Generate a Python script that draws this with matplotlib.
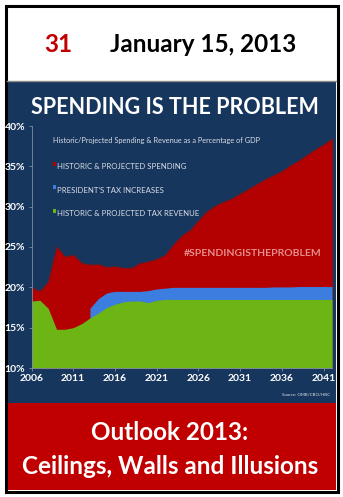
import matplotlib
matplotlib.use('Agg')
import matplotlib.pyplot as plt
from matplotlib.patches import Rectangle
import numpy as np

# data (percent of GDP)
years = list(range(2006, 2043))
spending = [20.0, 19.5, 20.7, 25.0, 23.8, 24.0, 23.0, 22.8, 22.85, 22.5, 22.6, 22.4,
            22.4, 23.0, 23.2, 23.5, 24.0, 25.3, 26.4, 27.1, 28.3, 29.4, 30.1, 30.6,
            31.0, 31.6, 32.2, 32.8, 33.4, 33.9, 34.4, 35.1, 35.7, 36.4, 37.1, 37.7, 38.4]
revenue = [18.3, 18.4, 17.4, 14.8, 14.8, 15.0, 15.5, 16.2, 16.8, 17.5, 17.9, 18.2,
           18.3, 18.3, 18.1, 18.4, 18.5, 18.5, 18.5, 18.5, 18.5, 18.5, 18.5, 18.5,
           18.5, 18.5, 18.5, 18.5, 18.5, 18.5, 18.5, 18.5, 18.5, 18.5, 18.5, 18.5, 18.5]
tax_years = list(range(2013, 2043))
with_tax = [17.4, 18.6, 19.3, 19.5, 19.5, 19.5, 19.5, 19.6, 19.8, 19.9, 20.0, 20.0,
            20.0, 20.0, 20.0, 20.0, 20.0, 20.0, 20.0, 20.0, 20.0, 20.0, 20.05, 20.05,
            20.05, 20.1, 20.1, 20.1, 20.1, 20.1]
x_ticks = [2006, 2011, 2016, 2021, 2026, 2031, 2036, 2041]
y_ticks = [10, 15, 20, 25, 30, 35, 40]
legend_labels = ['HISTORIC & PROJECTED SPENDING', "PRESIDENT'S TAX INCREASES",
                 'HISTORIC & PROJECTED TAX REVENUE']

NAVY = '#17365d'
RED = '#b30000'
BLUE = '#3c7de0'
GREEN = '#6cb515'
TXT = '#d9dee6'

W, H = 343, 497
fig = plt.figure(figsize=(W / 100, H / 100), dpi=100)
fig.patch.set_facecolor('white')

# page layer in pixel coordinates
bg = fig.add_axes([0, 0, 1, 1])
bg.set_xlim(0, W)
bg.set_ylim(H, 0)
bg.axis('off')
bg.add_patch(Rectangle((7, 81), 329, 322, facecolor=NAVY, edgecolor='none'))
bg.plot([7, 336], [80.5, 80.5], color='#8a8a8a', lw=1)
bg.add_patch(Rectangle((7, 403), 329, 87, facecolor='#c00000', edgecolor='none'))
bg.add_patch(Rectangle((5.5, 5.5), 332, 486, facecolor='none', edgecolor='black', lw=2.2))

bg.text(58, 45, '31', color='#c00000', fontsize=17.5, fontweight='bold',
        family='Lato', ha='center', va='center')
bg.text(203, 45, 'January 15, 2013', color='black', fontsize=17.5, fontweight='bold',
        family='Lato', ha='center', va='center')
bg.text(170, 433, 'Outlook 2013:', color='white', fontsize=17.5, fontweight='bold',
        family='Lato', ha='center', va='center')
bg.text(170, 466, 'Ceilings, Walls and Illusions', color='white', fontsize=17.5,
        fontweight='bold', family='Lato', ha='center', va='center')
bg.text(175, 108, 'SPENDING IS THE PROBLEM', color='white', fontsize=15.5,
        fontweight='bold', family='Lato', ha='center', va='center')

# chart
ax = fig.add_axes([31.5 / W, (H - 368) / H, 300.5 / W, 242 / H])
ax.set_facecolor(NAVY)
ax.fill_between(years, 10, spending, color=RED, lw=0.8, edgecolor='#8a1010')
ax.fill_between(tax_years, 10, with_tax, color=BLUE, lw=0)
ax.fill_between(years, 10, revenue, color=GREEN, lw=0)
ax.set_xlim(2006, 2042)
ax.set_ylim(10, 40)
ax.set_xticks(x_ticks)
ax.set_yticks(y_ticks)
ax.set_xticklabels([str(y) for y in x_ticks], color='white', fontsize=7.5,
                   fontweight='bold', family='Lato')
ax.set_yticklabels([f'{y}%' for y in y_ticks], color='white', fontsize=7.5,
                   fontweight='bold', family='Lato')
ax.tick_params(axis='both', colors='#7f8ea3', length=2, width=0.6, pad=2.5)
for t in ax.get_xticklabels() + ax.get_yticklabels():
    t.set_color('white')
for s in ['top', 'right']:
    ax.spines[s].set_visible(False)
for s in ['left', 'bottom']:
    ax.spines[s].set_color('#7f8ea3')
    ax.spines[s].set_linewidth(0.6)

# in-chart legend
ax.text(0.072, 0.942, 'Historic/Projected Spending & Revenue as a Percentage of GDP',
        transform=ax.transAxes, color=TXT, fontsize=5.3, family='Lato', va='center')
for i, (lab, c) in enumerate(zip(legend_labels, [RED, BLUE, GREEN])):
    yy = 0.831 - i * 0.097
    ax.add_patch(Rectangle((0.071, yy + 0.004), 0.01, 0.018, transform=ax.transAxes,
                           facecolor=c, edgecolor='none'))
    ax.text(0.086, yy, lab, transform=ax.transAxes, color=TXT, fontsize=5.6,
            family='Lato', va='center')

ax.text(0.965, 0.475, '#SPENDINGISTHEPROBLEM', transform=ax.transAxes, color='#e58e8e',
        fontsize=7.5, fontweight='bold', family='Lato', ha='right', va='center')

bg.text(330, 395, 'Source: OMB/CBO/HBC', color=TXT, fontsize=3.2, family='Lato',
        ha='right', va='center')

fig.savefig('out.png', dpi=100, facecolor='white')
